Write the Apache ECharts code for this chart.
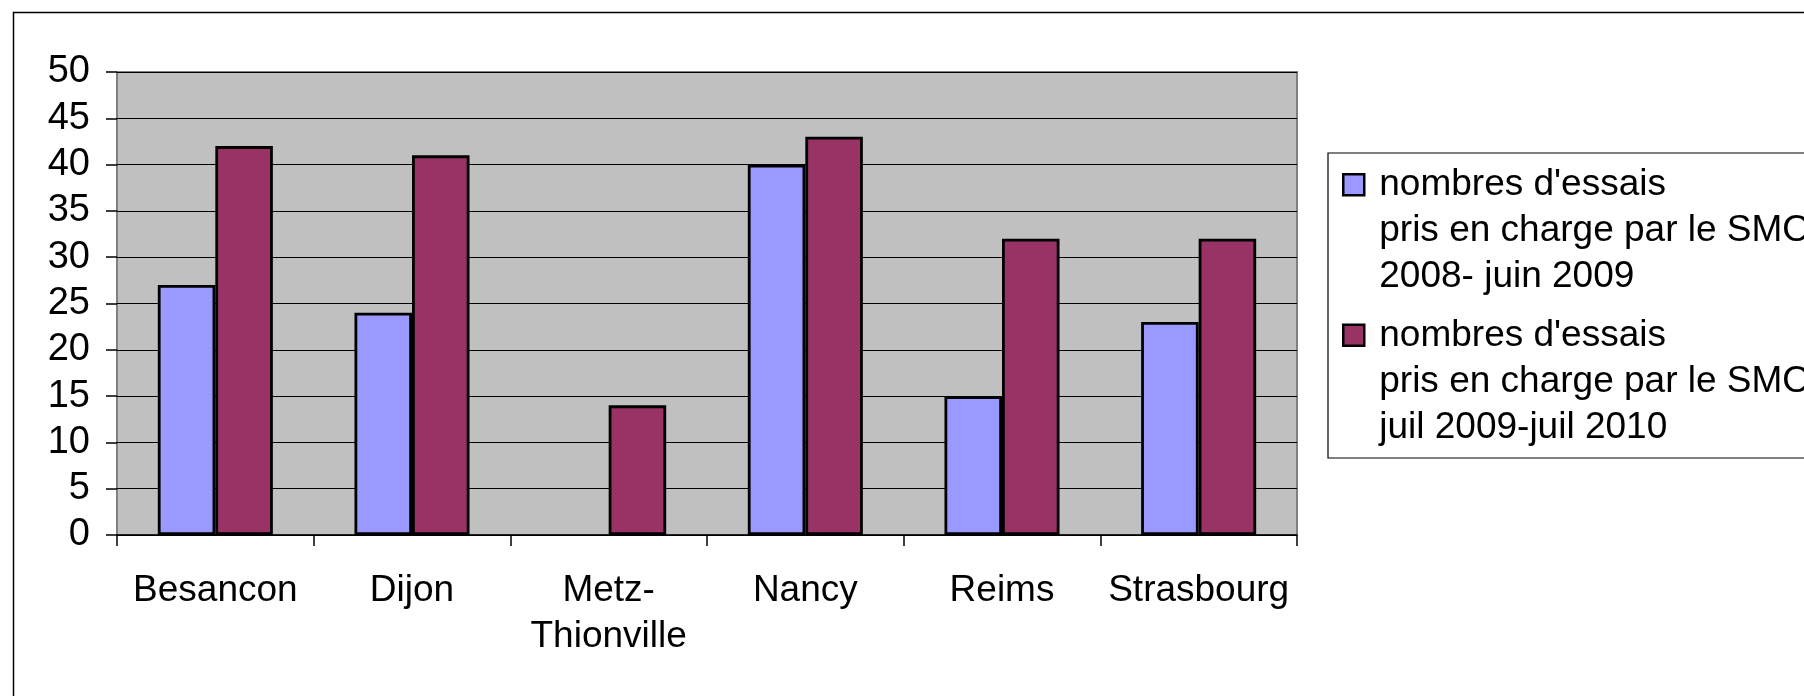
<!DOCTYPE html>
<html><head><meta charset="utf-8">
<script src="https://cdn.jsdelivr.net/npm/echarts@6/dist/echarts.min.js"></script>
<style>html,body{margin:0;padding:0;background:#fff}#c{width:1804px;height:696px}</style>
</head><body><div id="c"></div>
<script>
var categories = ['Besancon', 'Dijon', 'Metz-\nThionville', 'Nancy', 'Reims', 'Strasbourg'];
var seriesNames = [
  "nombres d'essais\npris en charge par le SMO\n2008- juin 2009",
  "nombres d'essais\npris en charge par le SMO\njuil 2009-juil 2010"
];
var values2008 = [27, 24, null, 40, 15, 23];
var values2009 = [42, 41, 14, 43, 32, 32];
var yTicks = {min: 0, max: 50, interval: 5};

var FONT = 'Liberation Sans, Arial, sans-serif';
var chart = echarts.init(document.getElementById('c'), null, {renderer: 'canvas'});
var iconPath = 'path://M0,0 M0,12 L21,12 L21,33 L0,33 Z M31,138';
chart.setOption({
  animation: false,
  textStyle: {fontFamily: FONT, color: '#000'},
  graphic: [{
    type: 'rect', left: 11, top: 10, z: -10,
    shape: {x: 0, y: 0, width: 2000, height: 1000},
    style: {fill: 'none', stroke: '#000', lineWidth: 1.5}
  }],
  grid: {
    left: 117, top: 72, width: 1180, height: 463,
    show: true, backgroundColor: '#C0C0C0', borderColor: '#808080', borderWidth: 2
  },
  legend: {
    orient: 'vertical', left: 1328, top: 153,
    padding: [8, 60, 6, 14], itemGap: 10,
    backgroundColor: '#fff', borderColor: '#000', borderWidth: 1.2,
    itemWidth: 31, itemHeight: 138, icon: iconPath, symbolKeepAspect: false,
    itemStyle: {borderColor: '#000', borderWidth: 2.5},
    textStyle: {fontSize: 37, lineHeight: 46, color: '#000', fontFamily: FONT},
    selectedMode: false
  },
  xAxis: {
    type: 'category', data: categories,
    axisLine: {show: true, lineStyle: {color: '#000', width: 1.5}},
    axisTick: {show: true, length: 11, inside: false, lineStyle: {color: '#000', width: 1.5}},
    axisLabel: {interval: 0, fontSize: 37, lineHeight: 46, margin: 33, color: '#000', fontFamily: FONT}
  },
  yAxis: {
    type: 'value', min: yTicks.min, max: yTicks.max, interval: yTicks.interval,
    axisLine: {show: false},
    axisTick: {show: true, length: 11, lineStyle: {color: '#000', width: 1.5}},
    splitLine: {show: true, lineStyle: {color: '#000', width: 1.2}},
    axisLabel: {fontSize: 38, margin: 27, color: '#000', fontFamily: FONT}
  },
  series: [
    {name: seriesNames[0], type: 'bar', data: values2008, barGap: '0%', barCategoryGap: '41.5%',
     itemStyle: {color: '#9999FF', borderColor: '#000', borderWidth: 2.8}},
    {name: seriesNames[1], type: 'bar', data: values2009, barGap: '0%', barCategoryGap: '41.5%',
     itemStyle: {color: '#993366', borderColor: '#000', borderWidth: 2.8}}
  ]
});
</script></body></html>
